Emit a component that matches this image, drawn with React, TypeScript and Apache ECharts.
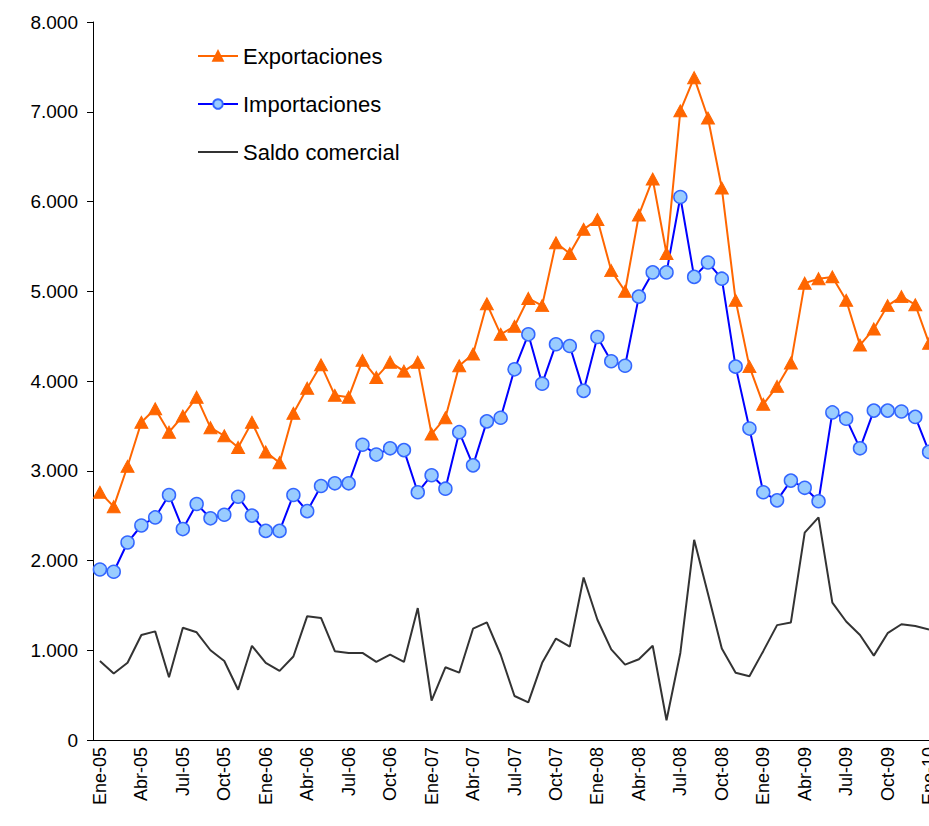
import React, { useEffect, useRef } from "react";
import * as echarts from "echarts";

const monthNames = ["Ene", "Feb", "Mar", "Abr", "May", "Jun", "Jul", "Ago", "Sep", "Oct", "Nov", "Dic"];
const years = ["05", "06", "07", "08", "09"];
const categories: string[] = [];
years.forEach((y) => monthNames.forEach((m) => categories.push(`${m}-${y}`)));
categories.push("Ene-10");

const exportaciones = [
  2760, 2600, 3050, 3540, 3690, 3430, 3610, 3820, 3480, 3390, 3260, 3540,
  3210, 3090, 3640, 3920, 4180, 3840, 3820, 4230, 4040, 4210, 4110, 4210,
  3410, 3590, 4170, 4300, 4860, 4520, 4610, 4920, 4840, 5540, 5420, 5690,
  5800, 5230, 5000, 5850, 6250, 5420, 7010, 7380, 6930, 6150, 4900, 4160,
  3740, 3940, 4200, 5090, 5140, 5160, 4900, 4400, 4580, 4840, 4940, 4850,
  4420,
];

const importaciones = [
  1900, 1875, 2200, 2390, 2480, 2730, 2350, 2630, 2470, 2510, 2710, 2500,
  2330, 2330, 2730, 2550, 2830, 2860, 2860, 3290, 3180, 3250, 3230, 2760,
  2950, 2800, 3430, 3060, 3550, 3590, 4130, 4520, 3970, 4410, 4390, 3890,
  4490, 4220, 4170, 4940, 5210, 5210, 6050, 5160, 5320, 5140, 4160, 3470,
  2760, 2670, 2890, 2810, 2660, 3650, 3580, 3250, 3670, 3670, 3660, 3600,
  3210,
];

const saldoComercial = [
  880, 740, 860, 1170, 1210, 700, 1250, 1200, 1000, 880, 560, 1050,
  860, 770, 930, 1380, 1360, 990, 970, 970, 870, 950, 870, 1470,
  440, 810, 750, 1240, 1310, 950, 490, 420, 860, 1130, 1040, 1810,
  1340, 1010, 840, 900, 1050, 220, 970, 2230, 1630, 1020, 750, 710,
  990, 1280, 1310, 2310, 2480, 1530, 1320, 1170, 940, 1190, 1290, 1270,
  1230,
];

const yTicks = { min: 0, max: 8000, interval: 1000 };

const fmt = (v: number) => {
  const s = Math.round(v).toString();
  return s.replace(/\B(?=(\d{3})+(?!\d))/g, ".");
};

export default function App() {
  const ref = useRef<HTMLDivElement>(null);
  useEffect(() => {
    if (!ref.current) return;
    const chart = echarts.init(ref.current, null, { renderer: "svg" });
    const font = "Liberation Sans, Arial, sans-serif";
    chart.setOption({
      animation: false,
      backgroundColor: "#ffffff",
      textStyle: { fontFamily: font },
      legend: {
        orient: "vertical",
        left: 192,
        top: 40,
        itemWidth: 40,
        itemHeight: 12,
        itemGap: 26,
        textStyle: { fontSize: 22, color: "#000", fontFamily: font },
        data: [
          { name: "Exportaciones" },
          { name: "Importaciones" },
          { name: "Saldo comercial", itemStyle: { opacity: 0 } },
        ],
      },
      grid: {
        left: 93,
        top: 22,
        width: 843,
        height: 718,
        containLabel: false,
        outerBoundsMode: "none",
      },
      xAxis: {
        type: "category",
        data: categories,
        boundaryGap: true,
        axisLine: { lineStyle: { color: "#000", width: 1 } },
        axisTick: { interval: 2, length: 6, lineStyle: { color: "#000" } },
        axisLabel: {
          interval: 2,
          rotate: 90,
          margin: 7,
          fontSize: 18,
          color: "#000",
          fontFamily: font,
        },
        splitLine: { show: false },
      },
      yAxis: {
        type: "value",
        min: yTicks.min,
        max: yTicks.max,
        interval: yTicks.interval,
        axisLine: { show: true, lineStyle: { color: "#000", width: 1 } },
        axisTick: { show: true, length: 6, lineStyle: { color: "#000" } },
        axisLabel: {
          formatter: (v: number) => fmt(v),
          fontSize: 19,
          color: "#000",
          margin: 15,
          fontFamily: font,
        },
        splitLine: { show: false },
      },
      series: [
        {
          name: "Saldo comercial",
          type: "line",
          data: saldoComercial,
          symbol: "none",
          lineStyle: { color: "#333333", width: 2 },
          itemStyle: { color: "#333333" },
          z: 2,
        },
        {
          name: "Importaciones",
          type: "line",
          data: importaciones,
          symbol: "circle",
          symbolSize: 13,
          showAllSymbol: true,
          lineStyle: { color: "#0000FF", width: 2 },
          itemStyle: { color: "#99CCFF", borderColor: "#3366FF", borderWidth: 1.5 },
          z: 3,
        },
        {
          name: "Exportaciones",
          type: "line",
          data: exportaciones,
          symbol: "triangle",
          symbolSize: [13, 12],
          showAllSymbol: true,
          lineStyle: { color: "#FF6600", width: 2 },
          itemStyle: { color: "#FF6600", borderColor: "#FF6600", borderWidth: 1 },
          z: 4,
        },
      ],
    });
    return () => chart.dispose();
  }, []);
  return (
    <div
      ref={ref}
      style={{ position: "fixed", left: 0, top: 0, width: 929, height: 826, overflow: "hidden" }}
    />
  );
}
